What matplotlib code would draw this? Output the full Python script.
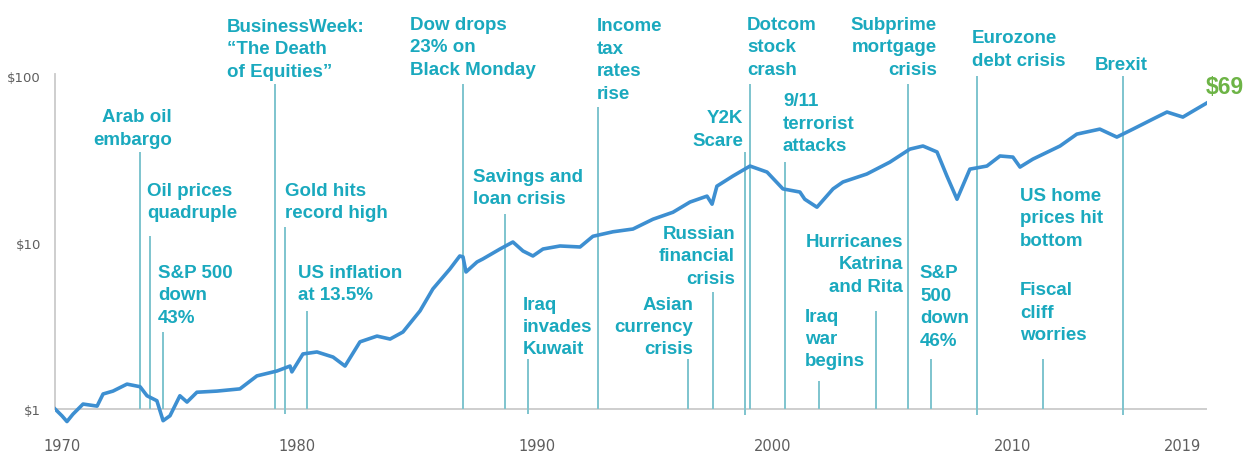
import matplotlib.pyplot as plt
from matplotlib.ticker import NullLocator

# Growth of $1 invested in 1970 (log scale), read at the turning points
years = [1970.0, 1970.3, 1970.52, 1970.78, 1971.22, 1971.83, 1972.09, 1972.52,
         1973.13, 1973.7, 1974.0, 1974.43, 1974.7, 1975.0, 1975.43, 1975.74,
         1976.17, 1977.04, 1978.04, 1978.78, 1979.65, 1980.22, 1980.3, 1980.78,
         1981.39, 1982.09, 1982.61, 1983.26, 1984.0, 1984.57, 1985.13, 1985.87,
         1986.43, 1987.17, 1987.6, 1987.74, 1987.87, 1988.35, 1988.6, 1989.35,
         1989.91, 1990.35, 1990.78, 1991.22, 1991.96, 1992.83, 1993.39, 1994.26,
         1995.13, 1996.0, 1996.87, 1997.61, 1998.35, 1998.57, 1998.78, 1999.48,
         2000.22, 2000.96, 2001.65, 2002.39, 2002.6, 2003.13, 2003.83, 2004.26,
         2005.3, 2006.3, 2007.17, 2007.74, 2008.35, 2008.78, 2009.22, 2009.78,
         2010.52, 2011.09, 2011.65, 2011.96, 2012.52, 2013.7, 2014.43, 2015.43,
         2016.17, 2016.87, 2017.74, 2018.35, 2019.04, 2019.48, 2020.09]
values = [1.00, 0.91, 0.84, 0.93, 1.07, 1.04, 1.23, 1.28,
          1.41, 1.36, 1.20, 1.12, 0.85, 0.91, 1.20, 1.10,
          1.26, 1.28, 1.32, 1.58, 1.69, 1.81, 1.67, 2.14,
          2.20, 2.05, 1.81, 2.53, 2.74, 2.63, 2.90, 3.88,
          5.26, 6.93, 8.30, 8.20, 6.65, 7.64, 7.96, 9.14,
          10.07, 8.89, 8.30, 9.14, 9.53, 9.40, 10.9, 11.6,
          12.05, 13.8, 15.2, 17.5, 19.0, 17.0, 21.8, 25.1,
          28.8, 26.5, 21.0, 20.1, 18.2, 16.3, 21.0, 23.1,
          25.8, 30.4, 36.4, 38.0, 35.0, 25.1, 18.2, 27.6,
          28.8, 33.1, 32.6, 28.4, 31.7, 38.0, 44.8, 48.0,
          43.0, 48.0, 55.2, 60.8, 56.7, 61.6, 69.0]

# Market events: date of the marker line and its label
event_years = [1973.70, 1974.13, 1974.70, 1979.57, 1980.00, 1980.96, 1987.74,
               1989.57, 1990.57, 1993.61, 1997.52, 1998.61, 2000.00, 2000.22,
               2001.74, 2003.22, 2005.70, 2007.09, 2008.09, 2010.09, 2012.96,
               2016.43]
event_labels = ["Arab oil\nembargo", "Oil prices\nquadruple", "S&P 500\ndown\n43%",
                "BusinessWeek:\n\u201cThe Death\nof Equities\u201d",
                "Gold hits\nrecord high", "US inflation\nat 13.5%",
                "Dow drops\n23% on\nBlack Monday", "Savings and\nloan crisis",
                "Iraq\ninvades\nKuwait", "Income\ntax\nrates\nrise",
                "Asian\ncurrency\ncrisis", "Russian\nfinancial\ncrisis",
                "Y2K\nScare", "Dotcom\nstock\ncrash", "9/11\nterrorist\nattacks",
                "Iraq\nwar\nbegins", "Hurricanes\nKatrina\nand Rita",
                "Subprime\nmortgage\ncrisis", "S&P\n500\ndown\n46%",
                "Eurozone\ndebt crisis", "Fiscal\ncliff\nworries", "Brexit"]
extra_label = "US home\nprices hit\nbottom"

xtick_labels = ["1970", "1980", "1990", "2000", "2010", "2019"]

# Layout: where each marker line stops and where its label sits (x, y, ha)
line_tops = [35.0, 10.9, 2.9, 89.5, 12.4, 3.88, 89.5, 14.8, 2.0, 65.1, 2.0,
             5.04, 35.0, 89.5, 30.4, 1.47, 3.88, 89.5, 2.0, 100, 2.0, 100]
line_bottoms = [1, 1, 1, 1, 0.93, 1, 1, 1, 0.93, 1, 1,
                1, 0.92, 1, 1, 1, 1, 1, 1, 0.92, 1, 0.92]
label_pos = [(1975.09, 48.7, "right"), (1974.0, 17.6, "left"),
             (1974.48, 4.84, "left"), (1977.48, 146, "left"),
             (1980.0, 17.6, "left"), (1980.57, 5.67, "left"),
             (1985.43, 150, "left"), (1988.17, 21.4, "left"),
             (1990.35, 3.13, "left"), (1993.57, 126, "left"),
             (1997.74, 3.13, "right"), (1999.57, 8.35, "right"),
             (1999.91, 48.0, "right"), (2000.09, 150, "left"),
             (2001.65, 52.2, "left"), (2002.61, 2.65, "left"),
             (2006.87, 7.43, "right"), (2008.35, 150, "right"),
             (2007.61, 4.13, "left"), (2009.87, 145, "left"),
             (2011.96, 3.82, "left"), (2015.22, 118, "left")]
extra_pos = (2011.96, 14.1, "left")
xtick_pos = [1970.3, 1980.52, 1990.96, 2001.2, 2011.65, 2019.04]

TEAL = "#1AA9BE"
EVENT_LINE = "#7EC4CE"
SERIES = "#3D8FD1"
AXIS = "#CACACA"
LABEL_FONT = dict(family="Liberation Sans", fontsize=13.5, fontweight="bold",
                  color=TEAL, linespacing=1.42, va="center")

fig = plt.figure(figsize=(12.45, 4.52), dpi=100, facecolor="white")
ax = fig.add_axes([55 / 1245, 27 / 452, 1152 / 1245, 410 / 452])
ax.set_yscale("log")
ax.set_xlim(1970, 2020.09)
ax.set_ylim(0.812, 236)

for side in ["top", "right", "bottom"]:
    ax.spines[side].set_visible(False)
ax.spines["left"].set_bounds(1, 103)
ax.spines["left"].set_color(AXIS)
ax.spines["left"].set_linewidth(1.3)
ax.axhline(1, color=AXIS, lw=1.3, zorder=1)

ax.set_yticks([1, 10, 100], ["$1", "$10", "$100"])
ax.yaxis.set_minor_locator(NullLocator())
ax.set_xticks(xtick_pos, xtick_labels)
ax.tick_params(axis="y", length=0, pad=10, labelsize=9.5, labelcolor="#5E5E5E")
ax.tick_params(axis="x", length=0, pad=10, labelsize=10.5, labelcolor="#5E5E5E")

# Event marker lines, then the growth line on top
ax.vlines(event_years, line_bottoms, line_tops, color=EVENT_LINE, lw=1.4, zorder=2)
ax.plot(years, values, color=SERIES, lw=2.6, zorder=3, solid_joinstyle="round")

for label, (x, y, ha) in zip(event_labels, label_pos):
    ax.text(x, y, label, ha=ha, **LABEL_FONT)
ax.text(extra_pos[0], extra_pos[1], extra_label, ha=extra_pos[2], **LABEL_FONT)

# Ending value next to the last point
ax.annotate(f"${values[-1]:.0f}", (years[-1], values[-1]), xytext=(-1, 12),
            textcoords="offset points", ha="left", va="center",
            family="Liberation Sans", fontsize=16.5, fontweight="bold",
            color="#6DB446", annotation_clip=False)

fig.savefig("out.png", dpi=100, facecolor="white")
